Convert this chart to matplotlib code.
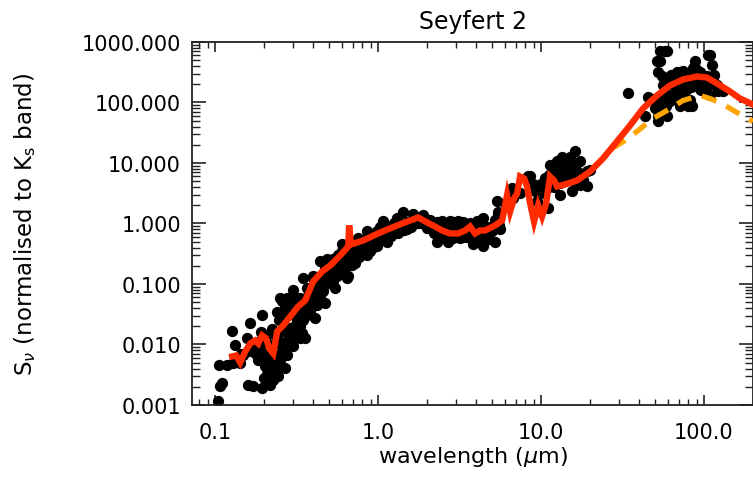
import numpy as np
import matplotlib
matplotlib.use("Agg")
import matplotlib.pyplot as plt
from matplotlib.ticker import LogLocator, FixedLocator, FixedFormatter, NullFormatter

# Photometry of the Seyfert 2 sample (log10 wavelength in micron, log10 flux normalised to Ks)
log_wave_obs = [
    -0.982, -0.969, -0.957, -0.975, -0.926, -0.896, -0.877, -0.890, -0.847, -0.785,
    -0.798, -0.767, -0.712, -0.712, -0.693, -0.663, -0.644, -0.681, -0.620, -0.589,
    -0.571, -0.663, -0.706, -0.804, -0.724, -0.681, -0.632, -0.601, -0.558, -0.528,
    -0.620, -0.583, -0.540, -0.521, -0.540, -0.497, -0.491, -0.521, -0.479, -0.497,
    -0.460, -0.479, -0.571, -0.613, -0.755, -0.828, -0.865, -0.436, -0.466, -0.429,
    -0.436, -0.399, -0.368, -0.356, -0.325, -0.307, -0.276, -0.252, -0.215, -0.190,
    -0.153, -0.110, -0.067, -0.031, -0.460, -0.417, -0.374, -0.356, -0.337, -0.307,
    -0.276, -0.245, -0.221, -0.184, -0.160, -0.129, -0.067, -0.018, -0.006, 0.031,
    0.043, -0.313, -0.252, -0.153, -0.092, -0.399, -0.479, -0.558, -0.601, -0.509,
    -0.387, -0.448, -0.325, -0.264, -0.202, -0.141, -0.080, -0.123, -0.202, -0.294,
    -0.049, -0.031, 0.055, 0.153, 0.178, 0.215, 0.276, 0.362, 0.393, 0.429,
    0.442, 0.491, 0.503, 0.564, 0.607, 0.626, 0.644, 0.675, 0.687, 0.730,
    0.736, 0.718, 0.074, 0.117, 0.319, 0.337, 0.521, 0.460, 0.031, -0.006,
    0.092, 0.196, 0.258, 0.399, 0.552, 0.583, 0.656, 0.135, 0.012, 0.227,
    0.644, 0.669, 0.736, 0.748, 0.822, 0.828, 0.920, 0.963, 0.975, 1.006,
    1.037, 1.043, 1.074, 1.098, 1.135, 1.160, 1.196, 1.209, 1.239, 1.190,
    1.239, 1.282, 1.282, 1.117, 1.067, 1.178, 1.221, 1.055, 1.098, 0.933,
    1.301, 1.147, 1.025, 1.117, 0.779, 0.871,
    1.534, 1.656, 1.638, 1.718, 1.712, 1.730, 1.773, 1.742, 1.748, 1.791,
    1.834, 1.865, 1.896, 1.933, 1.975, 1.957, 2.018, 2.037, 2.049, 2.055,
    2.018, 1.975, 1.896, 1.914, 1.902, 1.834, 1.791, 1.773, 1.730, 1.748,
    1.718, 1.834, 2.080, 2.086, 1.773, 1.822, 1.926, 1.945, 1.994, 2.025,
    2.098, 2.117, 2.037, 1.883, 1.853, 1.761, 1.730, 1.718, 1.699, 1.687,
    # optical band
    -0.50, -0.47, -0.45, -0.43, -0.42, -0.40, -0.38, -0.37, -0.35, -0.33,
    -0.32, -0.30, -0.29, -0.27, -0.26, -0.24, -0.23, -0.21, -0.20, -0.18,
    -0.17, -0.15, -0.13, -0.12, -0.10, -0.08, -0.06, -0.04, -0.02, 0.00,
    0.02, 0.04, 0.06, 0.08, 0.10, 0.12, 0.14, 0.16, 0.18, 0.20,
    0.22, 0.24, 0.26, 0.28,
    -0.38, -0.30, -0.22, -0.14, -0.06, 0.02, 0.10,
    # near-infrared plateau
    0.30, 0.32, 0.34, 0.36, 0.38, 0.40, 0.42, 0.44, 0.46, 0.48,
    0.50, 0.52, 0.54, 0.56, 0.58, 0.60, 0.62, 0.64, 0.66, 0.68,
    0.70, 0.72, 0.74,
    # ultraviolet band
    -0.70, -0.68, -0.66, -0.65, -0.63, -0.62, -0.60, -0.59, -0.57, -0.56,
    -0.54, -0.53, -0.51, -0.50, -0.48, -0.46, -0.61, -0.58, -0.55, -0.65,
    -0.68, -0.72, -0.76, -0.80, -0.84, -0.74, -0.70,
    # mid-infrared
    1.00, 1.05, 1.08, 1.10, 1.12, 1.15, 1.17, 1.20, 1.23, 1.26,
    1.02, 0.95, 1.13, 1.18,
    # far-infrared
    1.76, 1.80, 1.85, 1.90, 1.95, 2.00, 2.05, 1.88, 1.82, 1.92,
    1.98, 2.06, 1.87, 1.95, 1.80, 1.74, 1.77, 1.85,
]
log_flux_obs = [
    -2.942, -2.694, -2.645, -2.347, -2.347, -1.785, -2.017, -2.314, -2.314, -1.653,
    -2.678, -2.694, -2.727, -1.521, -2.364, -2.678, -2.595, -2.512, -1.455, -1.289,
    -1.405, -2.017, -2.066, -1.901, -1.950, -2.231, -2.182, -2.347, -2.182, -2.017,
    -1.901, -1.785, -1.736, -1.107, -1.355, -1.620, -1.818, -2.033, -1.901, -1.405,
    -1.289, -1.570, -2.397, -2.529, -2.149, -2.182, -2.264, -1.521, -1.818, -1.355,
    -1.074, -0.909, -1.074, -1.240, -0.744, -0.959, -0.579, -0.860, -0.463, -0.909,
    -0.579, -0.413, -0.529, -0.298, -0.909, -1.240, -1.355, -0.628, -1.124, -0.793,
    -0.959, -0.529, -0.331, -0.876, -0.694, -0.545, -0.132, -0.380, -0.132, 0.033,
    -0.132, -0.579, -0.694, -0.413, -0.298, -0.860, -1.240, -1.240, -1.240, -1.240,
    -1.570, -1.901, -1.322, -1.074, -0.744, -0.661, -0.413, -0.248, -0.496, -0.826,
    -0.463, -0.198, -0.298, 0.198, -0.083, 0.165, 0.132, -0.298, 0.033, -0.298,
    0.033, 0.033, -0.248, 0.000, 0.033, -0.281, -0.380, -0.198, -0.050, 0.364,
    0.198, -0.298, -0.050, 0.083, -0.050, 0.000, -0.165, -0.248, -0.198, -0.364,
    -0.165, 0.000, 0.000, -0.132, -0.165, -0.331, -0.165, -0.050, -0.050, 0.050,
    0.083, -0.083, 0.132, -0.083, 0.579, 0.413, 0.793, 0.529, 0.364, 0.248,
    0.579, 0.248, 0.909, 0.744, 0.959, 1.041, 0.959, 1.190, 1.025, 0.529,
    0.628, 0.612, 0.860, 0.463, 0.694, 0.793, 0.860, 0.959, 1.025, 0.793,
    0.876, 0.826, 0.744, 0.661, 0.331, 0.496,
    2.149, 2.099, 1.769, 1.686, 2.678, 2.843, 2.843, 2.446, 2.281, 2.397,
    2.512, 2.314, 2.446, 2.562, 2.512, 2.347, 2.446, 2.777, 2.612, 2.397,
    2.281, 2.231, 2.231, 2.033, 1.950, 2.066, 2.017, 2.116, 2.017, 1.901,
    1.785, 2.231, 2.281, 2.198, 1.785, 2.066, 1.950, 2.694, 2.397, 2.777,
    2.231, 2.182, 2.116, 2.347, 2.512, 2.843, 2.678, 2.512, 1.901, 2.066,
    # optical band
    -1.45, -1.50, -1.40, -1.20, -1.45, -1.10, -1.18, -0.98, -1.05, -0.88,
    -1.00, -0.75, -0.90, -0.68, -0.80, -0.62, -0.75, -0.55, -0.68, -0.45,
    -0.62, -0.50, -0.40, -0.55, -0.33, -0.45, -0.30, -0.40, -0.22, -0.30,
    -0.18, -0.25, -0.12, -0.20, -0.08, -0.15, -0.02, -0.10, 0.03, -0.05,
    0.08, 0.00, 0.10, 0.03,
    -0.88, -0.62, -0.45, -0.33, -0.22, -0.10, 0.00,
    # near-infrared plateau
    -0.08, 0.05, -0.15, 0.02, -0.20, -0.05, -0.22, -0.10, 0.02, -0.20,
    -0.08, 0.03, -0.22, -0.10, -0.25, -0.05, -0.18, -0.30, -0.05, -0.25,
    -0.12, 0.05, -0.02,
    # ultraviolet band
    -2.55, -2.40, -2.50, -2.30, -2.40, -2.20, -2.25, -2.05, -2.10, -1.95,
    -1.90, -1.80, -1.70, -1.60, -1.70, -1.60, -1.60, -1.55, -1.50, -1.75,
    -1.85, -1.80, -2.00, -2.10, -2.15, -2.25, -2.10,
    # mid-infrared
    0.65, 0.80, 0.60, 0.88, 0.75, 0.70, 0.92, 0.70, 0.78, 0.72,
    0.50, 0.65, 1.10, 1.10,
    # far-infrared
    2.25, 2.30, 2.40, 2.35, 2.42, 2.35, 2.30, 2.15, 2.15, 2.25,
    2.20, 2.45, 2.52, 2.55, 2.45, 2.10, 1.95, 1.95,
]

# Mean template SED
log_wave_tpl = [
    -0.896, -0.871, -0.847, -0.816, -0.785, -0.755, -0.736, -0.712, -0.687, -0.669,
    -0.644, -0.620, -0.583, -0.540, -0.491, -0.448, -0.399, -0.344, -0.294, -0.233,
    -0.184, -0.178, -0.166, -0.092, 0.012, 0.117, 0.196, 0.245, 0.301, 0.337,
    0.393, 0.442, 0.491, 0.534, 0.564, 0.595, 0.626, 0.656, 0.718, 0.761,
    0.791, 0.810, 0.834, 0.853, 0.871, 0.896, 0.914, 0.933, 0.957, 0.982,
    1.006, 1.031, 1.055, 1.080, 1.098, 1.147, 1.221, 1.301, 1.380, 1.466,
    1.546, 1.626, 1.712, 1.791, 1.871, 1.957, 2.018, 2.080, 2.160, 2.221, 2.301,
]
log_flux_tpl = [
    -2.198, -2.182, -2.298, -2.116, -1.983, -1.934, -1.983, -1.851, -1.901, -2.066,
    -2.149, -1.785, -1.686, -1.537, -1.372, -1.273, -0.959, -0.793, -0.694, -0.529,
    -0.380, -0.033, -0.347, -0.281, -0.149, -0.033, 0.050, 0.099, 0.017, -0.033,
    -0.116, -0.165, -0.165, -0.116, -0.050, -0.165, -0.116, -0.116, -0.033, 0.050,
    0.463, 0.198, 0.413, 0.496, 0.777, 0.744, 0.612, 0.331, 0.033, 0.298,
    0.116, 0.331, 0.777, 0.711, 0.612, 0.645, 0.711, 0.860, 1.074, 1.355,
    1.620, 1.901, 2.116, 2.281, 2.380, 2.430, 2.413, 2.314, 2.182, 2.066, 1.967,
]

# Cold dust component
log_wave_dust = [1.436, 1.515, 1.589, 1.687, 1.773, 1.871, 1.975, 2.037, 2.110, 2.202, 2.301]
log_flux_dust = [1.240, 1.372, 1.521, 1.736, 1.868, 2.033, 2.116, 2.066, 1.983, 1.835, 1.686]

x_ticks = [0.1, 1.0, 10.0, 100.0]
x_tick_labels = ["0.1", "1.0", "10.0", "100.0"]
y_ticks = [0.001, 0.01, 0.1, 1.0, 10.0, 100.0, 1000.0]
y_tick_labels = ["0.001", "0.010", "0.100", "1.000", "10.000", "100.000", "1000.000"]

wave_obs = 10.0 ** np.array(log_wave_obs)
flux_obs = 10.0 ** np.array(log_flux_obs)
wave_tpl = 10.0 ** np.array(log_wave_tpl)
flux_tpl = 10.0 ** np.array(log_flux_tpl)
wave_dust = 10.0 ** np.array(log_wave_dust)
flux_dust = 10.0 ** np.array(log_flux_dust)

plt.rcParams["font.family"] = "DejaVu Sans"
plt.rcParams["lines.scale_dashes"] = False

fig = plt.figure(figsize=(7.53, 4.81), dpi=100)
ax = fig.add_axes([0.255, 0.156, 0.745, 0.7546])

ax.scatter(wave_obs, flux_obs, s=66, color="black", linewidths=0, zorder=2)
ax.plot(wave_dust, flux_dust, color="#ffa500", lw=3.8, dashes=(11, 8), zorder=3)
ax.plot(wave_tpl, flux_tpl, color="#ff2a00", lw=4.6, solid_joinstyle="miter", zorder=4)

ax.set_xscale("log")
ax.set_yscale("log")
ax.set_xlim(0.072, 200)
ax.set_ylim(1e-3, 1e3)

ax.xaxis.set_major_locator(FixedLocator(x_ticks))
ax.xaxis.set_major_formatter(FixedFormatter(x_tick_labels))
ax.yaxis.set_major_locator(FixedLocator(y_ticks))
ax.yaxis.set_major_formatter(FixedFormatter(y_tick_labels))
ax.xaxis.set_minor_locator(LogLocator(base=10, subs=range(2, 10), numticks=20))
ax.yaxis.set_minor_locator(LogLocator(base=10, subs=range(2, 10), numticks=20))
ax.xaxis.set_minor_formatter(NullFormatter())
ax.yaxis.set_minor_formatter(NullFormatter())

for sp in ax.spines.values():
    sp.set_linewidth(1.3)
    sp.set_color("#222222")

ax.tick_params(axis="x", which="major", direction="in", length=7, width=1.2,
               top=True, bottom=True, labelsize=15, pad=12, color="#222222")
ax.tick_params(axis="x", which="minor", direction="in", length=4, width=1.0,
               top=True, bottom=True, color="#222222")
ax.tick_params(axis="y", which="major", direction="in", length=10, width=1.2,
               left=True, right=True, labelsize=15, pad=8, color="#222222")
ax.tick_params(axis="y", which="minor", direction="in", length=6, width=1.0,
               left=True, right=True, color="#222222")

ax.set_xlabel(r"wavelength ($\mu$m)", fontsize=16, labelpad=2)
ax.set_ylabel(r"S$_\nu$ (normalised to K$_{\rm s}$ band)", fontsize=16.5)
ax.yaxis.set_label_coords(-0.275, 0.5)
ax.set_title("Seyfert 2", fontsize=17, pad=10)

fig.savefig("out.png", dpi=100)
